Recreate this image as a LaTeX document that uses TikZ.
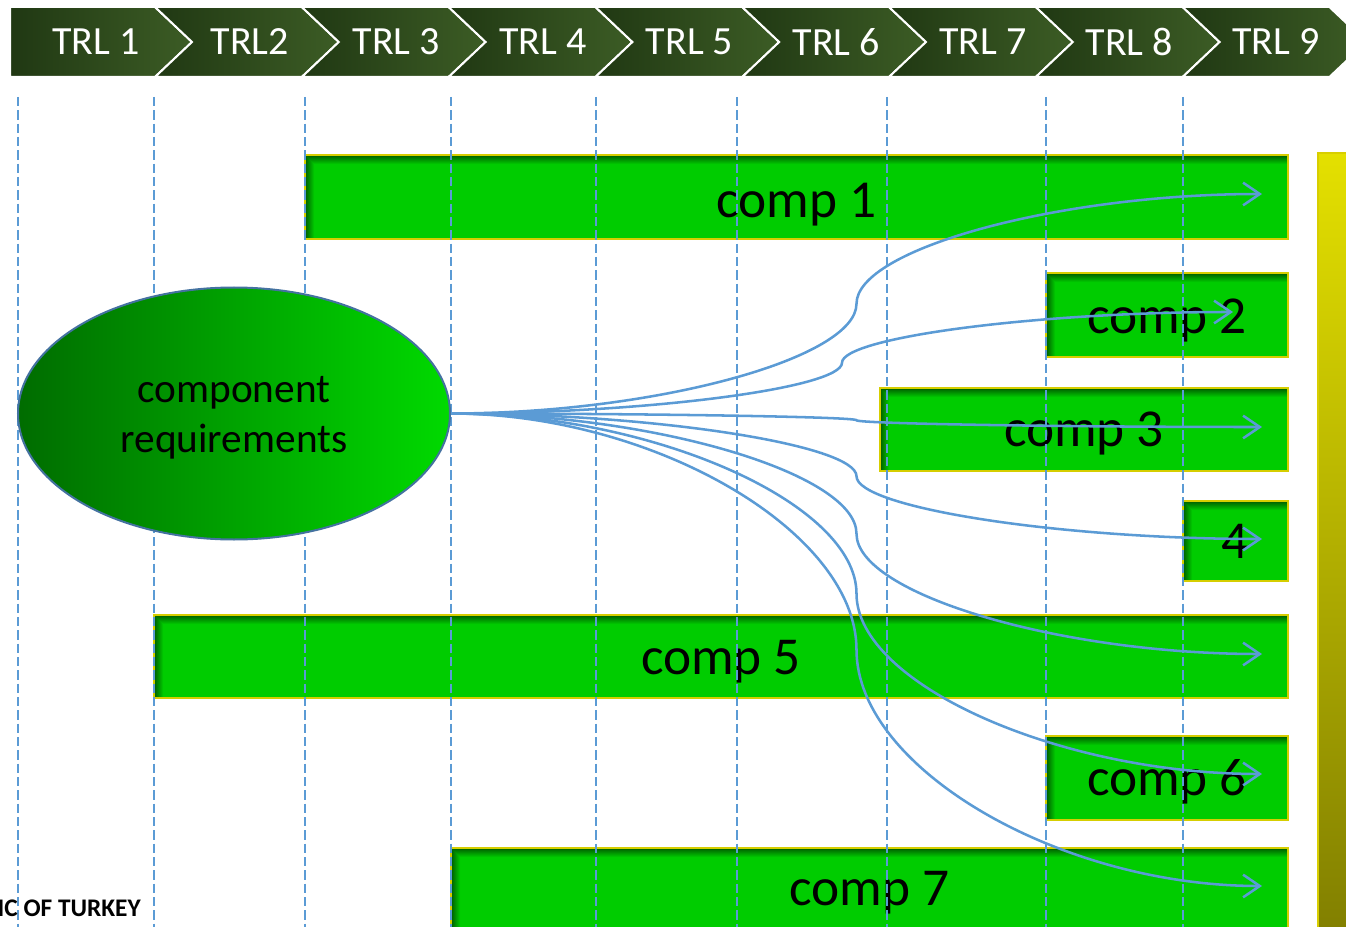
\documentclass[tikz,border=0pt]{standalone}
\usepackage{fontspec}
\setmainfont{Carlito}
\usetikzlibrary{arrows.meta,calc,shapes.geometric}

\definecolor{trldark}{RGB}{32,56,19}
\definecolor{trllight}{RGB}{60,92,37}
\definecolor{gridblue}{RGB}{91,155,213}
\definecolor{linkblue}{RGB}{91,155,213}
\definecolor{boxgreen}{RGB}{0,204,0}
\definecolor{boxshade}{RGB}{0,92,0}
\definecolor{boxrim}{RGB}{214,206,0}
\definecolor{ovaldark}{RGB}{0,108,0}
\definecolor{ovallight}{RGB}{0,218,0}
\definecolor{ovalrim}{RGB}{68,114,160}
\definecolor{bartop}{RGB}{228,224,0}
\definecolor{barbottom}{RGB}{128,126,0}
\definecolor{barrim}{RGB}{216,206,0}

\def\u{0.75pt}

\begin{document}
\begin{tikzpicture}[x=0.75pt,y=-0.75pt,
  trltext/.style={text=white, font=\fontsize{30}{36}\selectfont, inner sep=0},
  compbox/.style={rectangle, inner sep=0, outer sep=0, fill=boxgreen,
    draw=boxrim, line width=1.5pt,
    path picture={
      % inner shadow along the top and left edges
      \foreach \i in {0,...,9} {
        \pgfmathtruncatemacro\pc{11*\i}
        \draw[line width=0.8pt, color=boxgreen!\pc!boxshade]
          ([xshift={(\i+0.5)*0.75pt}]path picture bounding box.south west)
          -- ([xshift={(\i+0.5)*0.75pt}, yshift={-(\i+0.5)*0.75pt}]path picture bounding box.north west)
          -- ([yshift={-(\i+0.5)*0.75pt}]path picture bounding box.north east);
      }
    }},
  comptext/.style={font=\fontsize{40}{48}\selectfont, inner sep=0},
  gridline/.style={draw=gridblue, line width=0.8pt, dash pattern=on 7pt off 3pt},
  link/.style={draw=linkblue, line width=1.9pt,
    -{Straight Barb[length=12.5pt,width=17pt]}},
  connect/.style={to path={
    let \p1=(\tikztostart), \p2=(\tikztotarget) in
    .. controls ({0.75*\x1+0.25*\x2},\y1) and ({0.5*\x1+0.5*\x2},{0.75*\y1+0.25*\y2})
    .. ({0.5*\x1+0.5*\x2},{0.5*\y1+0.5*\y2})
    .. controls ({0.5*\x1+0.5*\x2},{0.25*\y1+0.75*\y2}) and ({0.25*\x1+0.75*\x2},\y2)
    .. (\tikztotarget)}}
]
\useasboundingbox (0,0) rectangle (1346,927);
\clip (0,0) rectangle (1346,927);

% TRL chevron bar
\shade[left color=trldark, right color=trllight, draw=white, line width=1.5pt]
  (10,7) -- (155,7) -- (192,42) -- (155,77) -- (10,77) -- cycle;
\foreach \k in {2,...,9} {
  \pgfmathsetmacro\xa{155+146.8*(\k-2)}
  \pgfmathsetmacro\xb{\xa+146.8}
  \shade[left color=trldark, right color=trllight, draw=white, line width=1.5pt]
    (\xa,7) -- (\xb,7) -- (\xb+37,42) -- (\xb,77) -- (\xa,77) -- (\xa+37,42) -- cycle;
}
\node[trltext] (trl1) at (96,42) {TRL 1};
\node[trltext] (trl2) at (249.8,42) {TRL2};
\node[trltext] (trl3) at (396.4,42) {TRL 3};
\node[trltext] (trl4) at (543,42) {TRL 4};
\node[trltext] (trl5) at (689.6,42) {TRL 5};
\node[trltext] (trl6) at (836.2,42) {TRL 6};
\node[trltext] (trl7) at (982.8,42) {TRL 7};
\node[trltext] (trl8) at (1129.4,42) {TRL 8};
\node[trltext] (trl9) at (1276,42) {TRL 9};

% component bars
\node[compbox, minimum width=983*\u, minimum height=84*\u] (c1) at (796.5,197) {};
\node[compbox, minimum width=242*\u, minimum height=84*\u] (c2) at (1167,315) {};
\node[compbox, minimum width=408*\u, minimum height=83*\u] (c3) at (1084,429.5) {};
\node[compbox, minimum width=105*\u, minimum height=80*\u] (c4) at (1235.5,541) {};
\node[compbox, minimum width=1134*\u, minimum height=83*\u] (c5) at (721,656.5) {};
\node[compbox, minimum width=242*\u, minimum height=84*\u] (c6) at (1167,778) {};
\node[compbox, minimum width=837*\u, minimum height=84*\u] (c7) at (869.5,890) {};

\node[comptext] (l1) at (796.5,205) {comp 1};
\node[comptext] (l2) at (1167,320) {comp 2};
\node[comptext] (l3) at (1084,433) {comp 3};
\node[comptext] (l4) at (1235.5,541.5) {4};
\node[comptext] (l5) at (721,662) {comp 5};
\node[comptext] (l6) at (1167,782) {comp 6};
\node[comptext] (l7) at (869.5,893) {comp 7};

% maturity scale bar
\shade[top color=bartop, bottom color=barbottom, draw=barrim, line width=1.5pt]
  (1318,153) rectangle (1370,945);

% TRL boundary guides
\foreach \gx in {18,154,305,451,596,737,887,1046,1183}
  \draw[gridline] (\gx,97) -- (\gx,930);

% requirements source
\node[ellipse, minimum width=432*\u, minimum height=252*\u, inner sep=0,
  left color=ovaldark, right color=ovallight, draw=ovalrim, line width=1.5pt]
  (req) at (234,413.5) {};
\node[font=\fontsize{31}{37.5}\selectfont, align=center, inner sep=0]
  (reqtext) at (234,418) {component\\requirements};

\node[font=\bfseries\fontsize{19}{21}\selectfont, anchor=east, inner sep=0]
  (org) at (141,908) {IC OF TURKEY};

% arrow end points inside the bars
\coordinate (t1) at (1262,194);
\coordinate (t2) at (1233,312);
\coordinate (t3) at (1262,427);
\coordinate (t4) at (1262,539);
\coordinate (t5) at (1262,654);
\coordinate (t6) at (1262,774);
\coordinate (t7) at (1262,886);

\foreach \t in {t1,t2,t3,t4,t5,t6,t7}
  \draw[link] (req.east) to[connect] (\t);
\end{tikzpicture}
\end{document}
